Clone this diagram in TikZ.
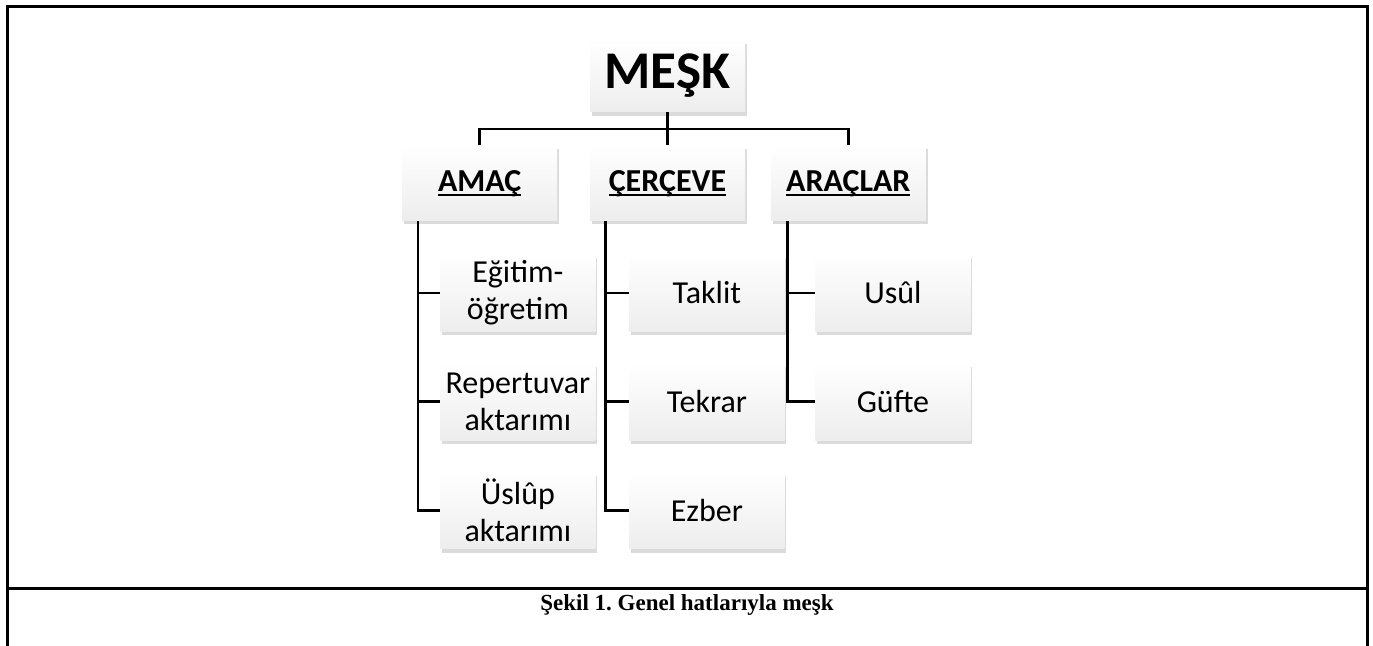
\documentclass[tikz,border=0pt]{standalone}
\usepackage{fontspec}
\setmainfont{Carlito}
\newfontfamily\capfont{Liberation Serif}
\usetikzlibrary{calc,positioning,shadows}
\newcommand\headul[1]{\setbox0\hbox{#1}\rlap{\rule[-2.6pt]{\wd0}{1.1pt}}\box0}

\begin{document}
\frenchspacing
\begin{tikzpicture}[x=0.5pt,y=-0.5pt,node distance=15.5pt,
  box/.style={inner sep=0pt,align=center,minimum width=77.5pt,top color=white,bottom color=gray!14,
    drop shadow={shadow xshift=1pt,shadow yshift=-1.8pt,opacity=.35,fill=gray!80}},
  head/.style={box,minimum height=37.5pt,font=\fontsize{16}{19}\selectfont\bfseries},
  leaf/.style={box,minimum height=38.5pt,font=\fontsize{16}{18.5}\selectfont},
  link/.style={line width=1.3pt},
  frame/.style={line width=1.5pt}]
\useasboundingbox (0,0) rectangle (1373,646);
\node[box,minimum height=36pt,font=\fontsize{26.5}{30}\selectfont\bfseries] (mesk) at (667.5,76) {MEŞK};
\node[head,below=16.5pt of mesk] (cerceve) {\headul{ÇERÇEVE}};
\node[head,left=16pt of cerceve] (amac) {\headul{AMAÇ}};
\node[head,right=12.5pt of cerceve] (araclar) {\headul{ARAÇLAR}};
% columns
\node[leaf,anchor=north west] (egitim) at (440,254) {Eğitim-\\öğretim};
\node[leaf,below=of egitim] (repertuvar) {Repertuvar\\aktarımı};
\node[leaf,below=of repertuvar] (uslup) {Üslûp\\aktarımı};
\node[leaf,anchor=north west] (taklit) at (629,254) {Taklit};
\node[leaf,below=of taklit] (tekrar) {Tekrar};
\node[leaf,below=of tekrar] (ezber) {Ezber};
\node[leaf,anchor=north west] (usul) at (815,254) {Usûl};
\node[leaf,below=of usul] (gufte) {Güfte};
% connectors
\coordinate (bus) at ($(mesk.south)!.5!(cerceve.north)$);
\draw[link] (mesk.south) -- (cerceve.north);
\draw[link] (amac.north) |- (bus) -| (araclar.north);
\foreach \c in {egitim,repertuvar,uslup}
  \draw[link] ([xshift=8pt]amac.south west) |- (\c.west);
\foreach \c in {taklit,tekrar,ezber}
  \draw[link] ([xshift=8pt]cerceve.south west) |- (\c.west);
\foreach \c in {usul,gufte}
  \draw[link] ([xshift=8.5pt]araclar.south west) |- (\c.west);
% frame and caption
\draw[frame] (7,646) -- (7,7) -- (1367,7) -- (1367,646);
\draw[frame] (7,589) -- (1367,589);
\node[font=\capfont\fontsize{11.5}{13}\selectfont\bfseries] (caption) at (687,605) {Şekil 1. Genel hatlarıyla meşk};
\end{tikzpicture}
\end{document}
